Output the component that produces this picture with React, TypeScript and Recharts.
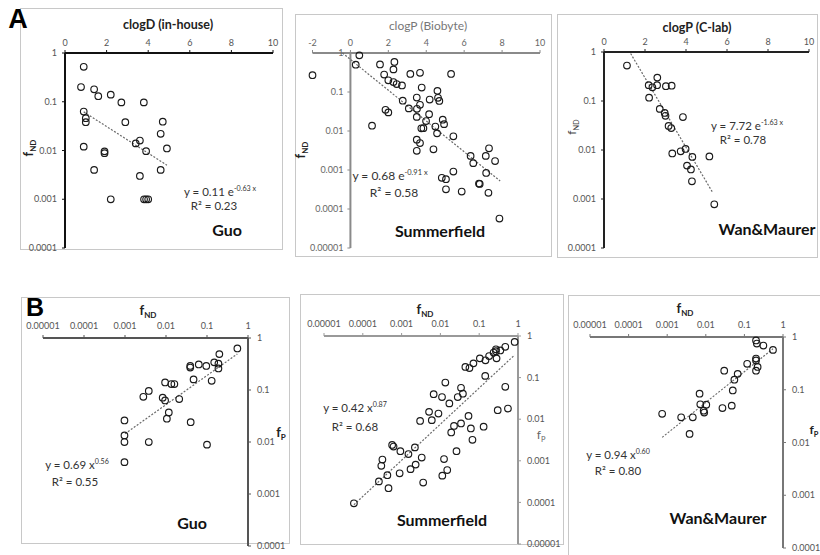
import React from 'react';
import { ScatterChart, Scatter, XAxis, YAxis, ReferenceLine } from 'recharts';

const W = 820;
const H = 555;

// ---------- tick values & labels ----------
const clogTicks = [0, 2, 4, 6, 8, 10];
const clogTicksBiobyte = [-2, 0, 2, 4, 6, 8, 10];
const logTicks4 = [0.0001, 0.001, 0.01, 0.1, 1];
const logTickLabels4 = ['0.0001', '0.001', '0.01', '0.1', '1'];
const logTicks5 = [0.00001, 0.0001, 0.001, 0.01, 0.1, 1];
const logTickLabels5 = ['0.00001', '0.0001', '0.001', '0.01', '0.1', '1'];

// ---------- Panel A data: [clogD/clogP, fND] ----------
const guoClogD_fND: [number, number][] = [
  [0.9, 0.52], [0.77, 0.2], [1.4, 0.18], [1.6, 0.13], [2.2, 0.14], [2.71, 0.097], [3.79, 0.097],
  [0.9, 0.063], [1.0, 0.046], [1.0, 0.038], [2.9, 0.038], [4.7, 0.039], [4.6, 0.022], [3.6, 0.016],
  [3.4, 0.014], [0.9, 0.012], [4.9, 0.011], [3.9, 0.0097], [1.9, 0.0096], [1.9, 0.0088], [1.4, 0.004],
  [3.6, 0.003], [4.6, 0.004], [2.2, 0.001], [3.8, 0.001], [3.9, 0.001], [4.0, 0.001],
];
const guoTrendA: [number, number][] = [[0.9, 0.062], [4.9, 0.005]];

const summerfieldClogP_fND: [number, number][] = [
  [-2.0, 0.27], [0.47, 0.87], [0.28, 0.5], [1.56, 0.51], [2.32, 0.59], [2.27, 0.38], [1.78, 0.28],
  [3.16, 0.29], [3.67, 0.31], [5.31, 0.29], [2.0, 0.2], [2.27, 0.18], [2.44, 0.16], [2.72, 0.147],
  [3.76, 0.13], [4.59, 0.107], [4.62, 0.071], [4.69, 0.059], [3.5, 0.072], [4.18, 0.064], [2.76, 0.06],
  [3.67, 0.047], [1.85, 0.035], [2.0, 0.03], [3.08, 0.038], [3.51, 0.037], [4.15, 0.027], [3.5, 0.023],
  [3.99, 0.018], [4.87, 0.0195], [4.94, 0.015], [4.48, 0.013], [3.74, 0.0117], [3.85, 0.0118],
  [1.14, 0.0137], [4.57, 0.0087], [5.43, 0.0073], [3.5, 0.006], [3.67, 0.0049], [3.5, 0.0031],
  [4.38, 0.0034], [7.31, 0.0036], [6.34, 0.0023], [7.14, 0.0023], [6.48, 0.0015], [7.63, 0.0017],
  [5.43, 0.00091], [7.16, 0.00084], [4.82, 0.00063], [5.04, 0.00058], [6.78, 0.00045], [6.82, 0.00044],
  [5.04, 0.00032], [5.87, 0.00028], [7.28, 0.00026], [7.86, 0.000057],
];
const summerfieldTrendA: [number, number][] = [[-0.42, 1.0], [7.9, 0.00052]];

const wanClogP_fND: [number, number][] = [
  [1.12, 0.53], [2.6, 0.3], [2.18, 0.21], [2.36, 0.19], [2.59, 0.21], [3.02, 0.2], [3.3, 0.205],
  [2.2, 0.117], [2.72, 0.069], [2.96, 0.057], [3.0, 0.05], [3.85, 0.047], [3.15, 0.031], [3.28, 0.028],
  [3.98, 0.0105], [3.74, 0.0094], [3.33, 0.0085], [4.31, 0.0072], [5.14, 0.0074], [4.05, 0.0048],
  [4.24, 0.004], [4.29, 0.0023], [5.38, 0.00078],
];
const wanTrendA: [number, number][] = [[1.3, 0.93], [5.3, 0.00136]];

// ---------- Panel B data: [fND, fP] ----------
const guoFND_fP: [number, number][] = [
  [0.55, 0.63], [0.2, 0.49], [0.15, 0.34], [0.19, 0.32], [0.19, 0.26], [0.096, 0.29], [0.063, 0.31],
  [0.039, 0.29], [0.039, 0.27], [0.047, 0.16], [0.13, 0.15], [0.0095, 0.14], [0.0135, 0.13], [0.016, 0.13],
  [0.0038, 0.096], [0.0028, 0.074], [0.0083, 0.071], [0.0095, 0.063], [0.021, 0.067], [0.0117, 0.037],
  [0.0105, 0.028], [0.04, 0.024], [0.00097, 0.026], [0.00097, 0.0134], [0.00097, 0.01], [0.0038, 0.01],
  [0.1, 0.0089], [0.00097, 0.0041],
];
const guoTrendB: [number, number][] = [[0.001, 0.0144], [0.55, 0.494]];

const summerfieldFND_fP: [number, number][] = [
  [0.82, 0.72], [0.47, 0.55], [0.35, 0.45], [0.27, 0.48], [0.27, 0.43], [0.235, 0.4], [0.18, 0.33],
  [0.28, 0.29], [0.145, 0.26], [0.104, 0.29], [0.071, 0.22], [0.044, 0.18], [0.056, 0.17], [0.143, 0.11],
  [0.0134, 0.076], [0.034, 0.057], [0.038, 0.041], [0.028, 0.034], [0.0067, 0.04], [0.011, 0.034],
  [0.017, 0.024], [0.47, 0.06], [0.55, 0.018], [0.3, 0.0165], [0.0051, 0.015], [0.0089, 0.0137],
  [0.003, 0.0091], [0.006, 0.0095], [0.053, 0.012], [0.034, 0.0079], [0.0224, 0.0069], [0.061, 0.006],
  [0.13, 0.0066], [0.019, 0.0048], [0.067, 0.0032], [0.00057, 0.0024], [0.00062, 0.0022], [0.0022, 0.0021],
  [0.00093, 0.0017], [0.0015, 0.00145], [0.0033, 0.0012], [0.00032, 0.00107], [0.0003, 0.00076],
  [0.0124, 0.0011], [0.026, 0.0017], [0.0023, 0.00081], [0.0017, 0.00063], [0.00043, 0.00045],
  [0.00089, 0.0005], [0.015, 0.0006], [0.0112, 0.00044], [0.00026, 0.00032], [0.0036, 0.0003],
  [0.00046, 0.00022], [0.000059, 0.000095],
];
const summerfieldTrendB: [number, number][] = [[0.000059, 0.000088], [0.82, 0.35]];

const wanFND_fP: [number, number][] = [
  [0.2, 0.86], [0.21, 0.75], [0.31, 0.69], [0.55, 0.57], [0.2, 0.39], [0.2, 0.36], [0.22, 0.27],
  [0.2, 0.23], [0.118, 0.31], [0.067, 0.2], [0.055, 0.155], [0.03, 0.23], [0.05, 0.097], [0.0069, 0.084],
  [0.0072, 0.053], [0.0103, 0.052], [0.0088, 0.04], [0.0091, 0.037], [0.047, 0.05], [0.027, 0.045],
  [0.00074, 0.035], [0.0023, 0.03], [0.0046, 0.03], [0.0038, 0.0145],
];
const wanTrendB: [number, number][] = [[0.00074, 0.0125], [0.55, 0.6]];

// ---------- helpers ----------
const toXY = (arr: [number, number][]) => arr.map(([x, y]) => ({ x, y }));
const labelFor = (ticks: number[], labels: string[]) => (v: number) => {
  const i = ticks.findIndex((t) => Math.abs(Math.log10(t) - Math.log10(v)) < 1e-6);
  return i >= 0 ? labels[i] : String(v);
};

const Circle = (p: any) => (
  <circle cx={p.cx} cy={p.cy} r={3.3} fill="none" stroke="#1a1a1a" strokeWidth={1.15} />
);
const Nothing = () => <g />;

type Plot = { left: number; top: number; right: number; bottom: number };

type PanelProps = {
  plot: Plot;
  xLog: boolean;
  xDomain: [number, number];
  xTicks: number[];
  xLabels?: string[];
  yDomain: [number, number];
  yTicks: number[];
  yLabels: string[];
  yRight: boolean;
  axisColor: string;
  tickColor: string;
  points: [number, number][];
  trend: [number, number][];
  yAxisAtZero?: boolean;
  xTickGap: number;
  yTickGap: number;
};

function Panel(props: PanelProps) {
  const { plot, xLog, xDomain, xTicks, xLabels, yDomain, yTicks, yLabels, yRight, axisColor, tickColor, points, trend, yAxisAtZero, xTickGap, yTickGap } = props;
  const xh = 24;
  const yw = 30;
  const margin = {
    top: plot.top - xh,
    bottom: H - plot.bottom,
    left: yRight ? plot.left : plot.left - yw,
    right: yRight ? W - plot.right - yw : W - plot.right,
  };
  const zeroX = plot.left + ((0 - xDomain[0]) / (xDomain[1] - xDomain[0])) * (plot.right - plot.left);
  const yFmt = labelFor(yTicks, yLabels);
  const xFmt = xLog && xLabels ? labelFor(xTicks, xLabels) : (v: number) => String(v);

  const zeroTick = (p: any) => (
    <g>
      <line x1={zeroX - 3} x2={zeroX} y1={p.y} y2={p.y} stroke={axisColor} strokeWidth={1} />
      <text x={zeroX - 7} y={p.y} dy="0.35em" textAnchor="end" fontSize={9} fill={tickColor}>
        {yFmt(p.payload.value)}
      </text>
    </g>
  );

  return (
    <div style={{ position: 'absolute', left: 0, top: 0 }}>
      <ScatterChart width={W} height={H} margin={margin}>
        <XAxis
          type="number"
          dataKey="x"
          orientation="top"
          height={xh}
          scale={xLog ? 'log' : 'auto'}
          domain={xDomain}
          ticks={xTicks}
          interval={0}
          tickFormatter={xFmt}
          tick={{ fontSize: 9, fill: tickColor }}
          tickSize={3}
          tickMargin={xTickGap}
          axisLine={{ stroke: axisColor, strokeWidth: 2 }}
          tickLine={{ stroke: axisColor, strokeWidth: 1 }}
        />
        <YAxis
          type="number"
          dataKey="y"
          orientation={yRight ? 'right' : 'left'}
          width={yw}
          scale="log"
          domain={yDomain}
          ticks={yTicks}
          interval={0}
          tickFormatter={yFmt}
          tick={yAxisAtZero ? zeroTick : { fontSize: 9, fill: tickColor }}
          tickSize={3}
          tickMargin={yTickGap}
          axisLine={yAxisAtZero ? false : { stroke: axisColor, strokeWidth: 2 }}
          tickLine={yAxisAtZero ? false : { stroke: axisColor, strokeWidth: 1 }}
        />
        {yAxisAtZero && <ReferenceLine x={0} stroke={axisColor} strokeWidth={2} />}
        <Scatter
          data={toXY(trend)}
          line={{ stroke: '#6a6a6a', strokeWidth: 1.2, strokeDasharray: '2 1.6' }}
          shape={Nothing}
          isAnimationActive={false}
        />
        <Scatter data={toXY(points)} shape={Circle} isAnimationActive={false} />
      </ScatterChart>
    </div>
  );
}

// ---------- text overlay helpers ----------
const T = ({ x, y, children, size = 12, bold = false, color = '#222', rotate = false, family }: any) => (
  <div
    style={{
      position: 'absolute',
      left: x,
      top: y,
      transform: `translate(-50%, -50%)${rotate ? ' rotate(-90deg)' : ''}`,
      fontSize: size,
      fontWeight: bold ? 700 : 400,
      color,
      whiteSpace: 'nowrap',
      lineHeight: 1,
      fontFamily: family,
    }}
  >
    {children}
  </div>
);

const Sup = ({ children }: any) => (
  <span style={{ fontSize: '0.62em', verticalAlign: 'super', lineHeight: 0 }}>{children}</span>
);
const Sub = ({ children }: any) => (
  <span style={{ fontSize: '0.62em', verticalAlign: 'sub', lineHeight: 0 }}>{children}</span>
);

const Box = ({ l, t, r, b }: any) => (
  <div
    style={{
      position: 'absolute',
      left: l,
      top: t,
      width: r - l,
      height: b - t,
      border: '1px solid #c8c8c8',
      boxSizing: 'border-box',
    }}
  />
);

export default function App() {
  return (
    <div
      style={{
        position: 'absolute',
        left: 0,
        top: 0,
        width: W,
        height: H,
        overflow: 'hidden',
        background: '#fff',
        fontFamily: 'Lato, "Open Sans", sans-serif',
      }}
    >
      <Box l={20} t={8} r={283} b={250} />
      <Box l={295} t={14} r={552} b={257} />
      <Box l={557} t={14} r={818} b={258} />
      <Box l={21} t={297} r={290} b={544} />
      <Box l={300} t={294} r={564} b={545} />
      <Box l={568} t={295} r={824} b={560} />

      <Panel
        plot={{ left: 65, top: 53, right: 273, bottom: 248 }}
        xLog={false}
        xDomain={[0, 10]}
        xTicks={clogTicks}
        yDomain={[0.0001, 1]}
        yTicks={logTicks4}
        yLabels={logTickLabels4}
        yRight={false}
        axisColor="#111"
        tickColor="#555"
        points={guoClogD_fND}
        trend={guoTrendA}
        xTickGap={4}
        yTickGap={5}
      />
      <Panel
        plot={{ left: 312.5, top: 53, right: 540, bottom: 248 }}
        xLog={false}
        xDomain={[-2, 10]}
        xTicks={clogTicksBiobyte}
        yDomain={[0.00001, 1]}
        yTicks={logTicks5}
        yLabels={logTickLabels5}
        yRight={false}
        axisColor="#8a8a8a"
        tickColor="#666"
        points={summerfieldClogP_fND}
        trend={summerfieldTrendA}
        yAxisAtZero
        xTickGap={4}
        yTickGap={5}
      />
      <Panel
        plot={{ left: 604, top: 52, right: 809, bottom: 248 }}
        xLog={false}
        xDomain={[0, 10]}
        xTicks={clogTicks}
        yDomain={[0.0001, 1]}
        yTicks={logTicks4}
        yLabels={logTickLabels4}
        yRight={false}
        axisColor="#222"
        tickColor="#555"
        points={wanClogP_fND}
        trend={wanTrendA}
        xTickGap={4}
        yTickGap={5}
      />
      <Panel
        plot={{ left: 43, top: 338, right: 248, bottom: 546 }}
        xLog
        xDomain={[0.00001, 1]}
        xTicks={logTicks5}
        xLabels={logTickLabels5}
        yDomain={[0.0001, 1]}
        yTicks={logTicks4}
        yLabels={logTickLabels4}
        yRight
        axisColor="#555"
        tickColor="#555"
        points={guoFND_fP}
        trend={guoTrendB}
        xTickGap={6}
        yTickGap={6}
      />
      <Panel
        plot={{ left: 324, top: 336, right: 518, bottom: 544 }}
        xLog
        xDomain={[0.00001, 1]}
        xTicks={logTicks5}
        xLabels={logTickLabels5}
        yDomain={[0.00001, 1]}
        yTicks={logTicks5}
        yLabels={logTickLabels5}
        yRight
        axisColor="#999"
        tickColor="#555"
        points={summerfieldFND_fP}
        trend={summerfieldTrendB}
        xTickGap={6}
        yTickGap={6}
      />
      <Panel
        plot={{ left: 590, top: 337, right: 783, bottom: 548 }}
        xLog
        xDomain={[0.00001, 1]}
        xTicks={logTicks5}
        xLabels={logTickLabels5}
        yDomain={[0.0001, 1]}
        yTicks={logTicks4}
        yLabels={logTickLabels4}
        yRight
        axisColor="#777"
        tickColor="#555"
        points={wanFND_fP}
        trend={wanTrendB}
        xTickGap={6}
        yTickGap={6}
      />

      {/* Letters */}
      <T x={18} y={19} size={27} bold color="#000" family='"Liberation Sans", Arial, sans-serif'>A</T>
      <T x={35} y={307} size={25} bold color="#000" family='"Liberation Sans", Arial, sans-serif'>B</T>

      {/* Panel A titles */}
      <T x={168} y={25} size={12.5} bold>clogD (in-house)</T>
      <T x={428} y={26} size={12} color="#777">clogP (Biobyte)</T>
      <T x={697} y={28} size={12.5} bold>clogP (C-lab)</T>
      <T x={28} y={148} size={13} bold rotate>f<Sub>ND</Sub></T>
      <T x={300} y={150} size={13} bold rotate>f<Sub>ND</Sub></T>
      <T x={572} y={127} size={12} color="#444" rotate>f<Sub>ND</Sub></T>

      {/* Panel A equations */}
      <T x={220} y={192} size={11.5} color="#333">y = 0.11 e<Sup>-0.63 x</Sup></T>
      <T x={214} y={206} size={11.5} color="#333">R² = 0.23</T>
      <T x={390} y={176} size={12} color="#333">y = 0.68 e<Sup>-0.91 x</Sup></T>
      <T x={394} y={193} size={12} color="#333">R² = 0.58</T>
      <T x={747} y={126} size={11.5} color="#333">y = 7.72 e<Sup>-1.63 x</Sup></T>
      <T x={743} y={140} size={11.5} color="#333">R² = 0.78</T>

      <T x={227} y={230} size={16} bold color="#111">Guo</T>
      <T x={440} y={231} size={16} bold color="#111">Summerfield</T>
      <T x={767} y={229} size={16} bold color="#111">Wan&amp;Maurer</T>

      {/* Panel B titles */}
      <T x={148} y={310} size={13} bold>f<Sub>ND</Sub></T>
      <T x={425} y={309} size={13} bold>f<Sub>ND</Sub></T>
      <T x={685} y={308} size={13} bold>f<Sub>ND</Sub></T>
      <T x={281} y={432} size={13} bold>f<Sub>P</Sub></T>
      <T x={541} y={435} size={12} color="#666">f<Sub>P</Sub></T>
      <T x={814} y={430} size={12} bold>f<Sub>P</Sub></T>

      {/* Panel B equations */}
      <T x={77} y={465} size={11.5} color="#333">y = 0.69 x<Sup>0.56</Sup></T>
      <T x={75} y={482} size={11.5} color="#333">R² = 0.55</T>
      <T x={355} y={408} size={11.5} color="#333">y = 0.42 x<Sup>0.87</Sup></T>
      <T x={355} y={427} size={11.5} color="#333">R² = 0.68</T>
      <T x={618} y={455} size={11.5} color="#333">y = 0.94 x<Sup>0.60</Sup></T>
      <T x={618} y={471} size={11.5} color="#333">R² = 0.80</T>

      <T x={192} y={523} size={16} bold color="#111">Guo</T>
      <T x={442} y={520} size={16} bold color="#111">Summerfield</T>
      <T x={718} y={518} size={16} bold color="#111">Wan&amp;Maurer</T>
    </div>
  );
}
